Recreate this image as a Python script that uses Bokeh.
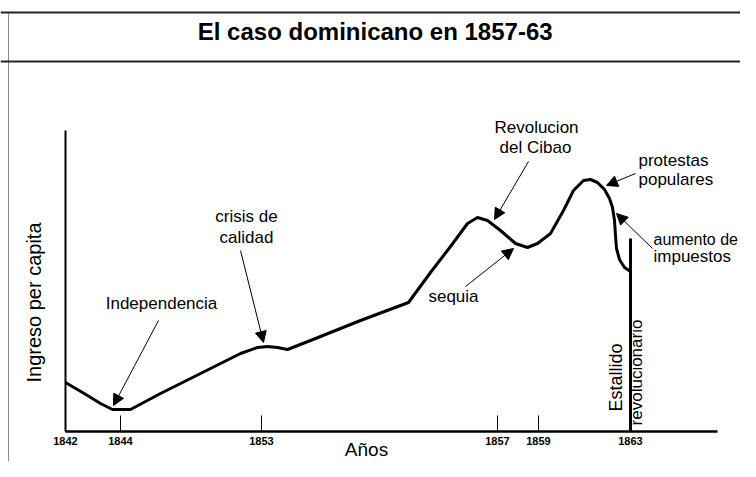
import math
from bokeh.plotting import figure
from bokeh.models import (ColumnDataSource, FixedTicker, Label, Arrow, NormalHead,
                          Span, Range1d)
from bokeh.embed import file_html
from bokeh.resources import INLINE

# ---------------- data (schematic) ----------------
tick_years = ["1842", "1844", "1853", "1857", "1859", "1863"]
tick_pos = [0.0, 5.5, 19.6, 43.2, 47.3, 56.5]

income_x = [0.0, 2.2, 3.5, 4.7, 6.5, 9.5, 13.5, 17.5, 19.2, 20.2, 21.2, 22.2, 24.5,
            29.5, 34.3, 36.5, 38.5, 40.2, 41.2, 42.2, 43.5, 45.0, 46.2, 47.2, 48.5,
            49.8, 50.8, 51.8, 52.5, 53.2, 53.9, 54.4, 54.7, 54.9, 55.0, 55.1, 55.4,
            55.9, 56.5]
income_y = [4.9, 3.6, 2.8, 2.2, 2.2, 3.8, 5.8, 7.8, 8.4, 8.5, 8.4, 8.2, 9.1,
            11.1, 12.9, 15.9, 18.5, 20.8, 21.4, 21.1, 20.1, 18.8, 18.4, 18.8, 19.8,
            22.1, 24.1, 25.1, 25.2, 24.9, 24.2, 23.3, 22.4, 21.1, 19.6, 18.3, 17.2,
            16.4, 16.0]

outbreak_x = [56.5, 56.5]
outbreak_y = [0.0, 19.3]

title_text = "El caso  dominicano en 1857-63"
x_label = "Años"
y_label = "Ingreso per capita"

FONT = "Liberation Sans"

p = figure(width=740, height=461, output_backend="svg", toolbar_location=None,
           x_range=Range1d(-6.5, 67.5), y_range=Range1d(-3.0, 43.1),
           min_border=0, title=None)
p.background_fill_color = "white"
p.border_fill_color = "white"
p.outline_line_color = None
p.grid.visible = False

# x axis (drawn inside the frame at y = 0)
xa = p.xaxis[0]
xa.fixed_location = 0
xa.bounds = (0, 65.2)
xa.ticker = FixedTicker(ticks=tick_pos)
xa.major_label_overrides = {t: lab for t, lab in zip(tick_pos, tick_years)}
xa.major_tick_in = 16
xa.major_tick_out = 0
xa.major_tick_line_width = 1
xa.minor_tick_line_color = None
xa.axis_line_width = 2.5
xa.axis_line_color = "black"
xa.major_label_text_font = FONT
xa.major_label_text_font_style = "bold"
xa.major_label_text_font_size = "11px"
xa.major_label_text_color = "black"
xa.major_label_standoff = 5

# y axis (drawn inside the frame at x = 0)
ya = p.yaxis[0]
ya.fixed_location = 0
ya.bounds = (0, 30.1)
ya.ticker = FixedTicker(ticks=[])
ya.minor_tick_line_color = None
ya.axis_line_width = 2
ya.axis_line_color = "black"

src = ColumnDataSource(dict(x=income_x, y=income_y))
p.line("x", "y", source=src, line_width=3, line_color="black", line_join="round")
p.line(outbreak_x, outbreak_y, line_width=3, line_color="black")

# page frame and title box
p.add_layout(Span(location=41.9, dimension="width", line_color="#222222",
                  line_width=2))
p.add_layout(Span(location=37.0, dimension="width", line_color="#222222",
                  line_width=2))
p.segment(x0=[-5.7], y0=[41.9], x1=[-5.7], y1=[-3.0], line_color="#888888",
          line_width=1)

p.add_layout(Label(x=31.3, y=40.0, text=title_text,
                   text_font=FONT, text_font_style="bold", text_font_size="24px",
                   text_align="center", text_baseline="middle", text_color="black"))
p.add_layout(Label(x=30.1, y=-1.75, text=x_label,
                   text_font=FONT, text_font_size="19px",
                   text_align="center", text_baseline="middle", text_color="black"))
p.add_layout(Label(x=-3.2, y=12.9, text=y_label,
                   angle=math.pi / 2, text_font=FONT, text_font_size="20px",
                   text_align="center", text_baseline="middle", text_color="black"))


def note(x, y, text, align="center", size="17px", angle=0.0):
    p.add_layout(Label(x=x, y=y, text=text, text_font=FONT, text_font_size=size,
                       text_align=align, text_baseline="middle", angle=angle,
                       text_color="black"))


def arrow(x0, y0, x1, y1):
    p.add_layout(Arrow(end=NormalHead(size=11, fill_color="black", line_color="black",
                                      line_width=1),
                       x_start=x0, y_start=y0, x_end=x1, y_end=y1,
                       line_width=1, line_color="black"))


note(9.6, 12.8, "Independencia")
arrow(9.3, 11.1, 4.8, 2.6)

note(18.1, 21.5, "crisis de")
note(18.1, 19.4, "calidad")
arrow(17.5, 18.1, 19.8, 8.9)

note(47.1, 30.4, "Revolucion")
note(47.0, 28.4, "del Cibao")
arrow(46.3, 27.0, 42.9, 21.2)

note(38.8, 13.5, "sequia")
arrow(40.0, 14.5, 44.8, 18.3)

note(57.3, 27.1, "protestas", align="left")
note(57.3, 25.2, "populares", align="left")
arrow(57.0, 25.8, 54.1, 24.6)

note(58.8, 19.2, "aumento de", align="left", size="16px")
note(58.8, 17.5, "impuestos", align="left")
arrow(58.7, 18.3, 55.1, 21.8)

note(55.0, 5.4, "Estallido", size="18px", angle=math.pi / 2)
note(57.1, 5.9, "revolucionario", size="17px", angle=math.pi / 2)

open("out.html", "w").write(file_html(p, INLINE))
